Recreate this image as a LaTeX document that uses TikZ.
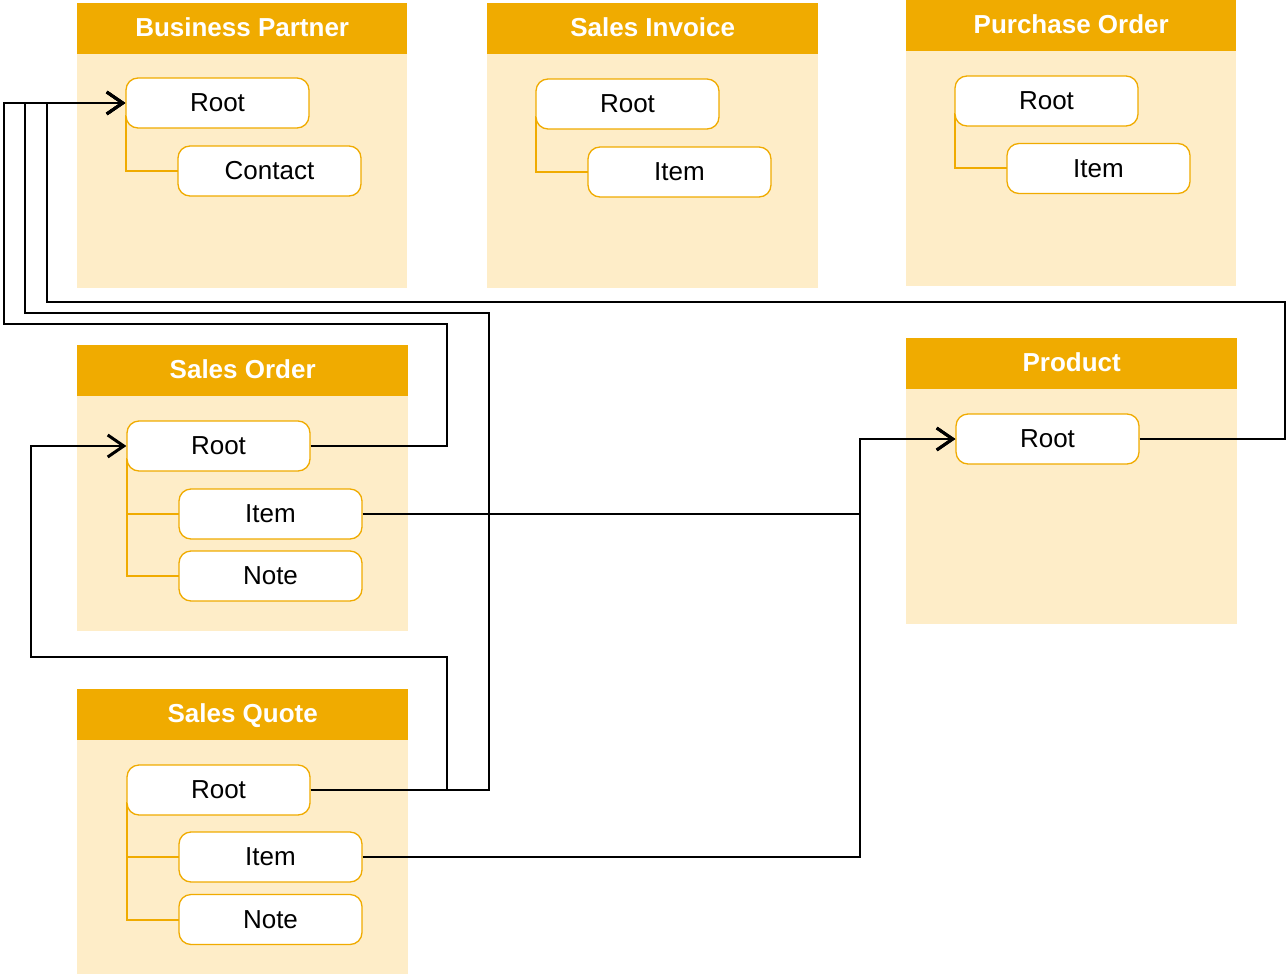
\documentclass[tikz,border=0pt]{standalone}
\usepackage{fontspec}
\setmainfont{Liberation Sans}
\usetikzlibrary{arrows.meta}
\definecolor{gold}{HTML}{F0AB00}
\definecolor{cream}{HTML}{FEEDC8}
\tikzset{
  hdr/.style={fill=gold, text=white, font=\fontsize{26}{29}\selectfont\bfseries,
    minimum width=330pt, minimum height=51pt, inner sep=0pt, anchor=north west,
    text depth=3pt},
  body/.style={fill=cream},
  part/.style={draw=gold, line width=1.3pt, fill=white, rounded corners=12pt,
    minimum width=183pt, minimum height=50pt, inner sep=0pt,
    font=\fontsize{26}{29}\selectfont},
  tree/.style={draw=gold, line width=1.2pt},
  conn/.style={draw=black, line width=2.6pt},
  ref/.style={conn, -{Straight Barb[length=16pt,width=22pt,line width=3pt]}}
}
\begin{document}
\begin{tikzpicture}[x=1pt,y=-1pt]
\useasboundingbox (0,0) rectangle (1287,974);

% object boxes: body panels
\fill[body] (77,53) rectangle (407,288);
\fill[body] (487,53) rectangle (818,288);
\fill[body] (906,50) rectangle (1236,286);
\fill[body] (77,395) rectangle (408,631);
\fill[body] (906,388) rectangle (1237,624);
\fill[body] (77,739) rectangle (408,974);

% object boxes: title bars
\node[hdr] (bp) at (77,3) {Business Partner};
\node[hdr, minimum width=331pt] (si) at (487,3) {Sales Invoice};
\node[hdr] (po) at (906,0) {Purchase Order};
\node[hdr, minimum width=331pt] (so) at (77,345) {Sales Order};
\node[hdr, minimum width=331pt] (pr) at (906,338) {Product};
\node[hdr, minimum width=331pt] (sq) at (77,689) {Sales Quote};

% tree connectors (drawn first, nodes cover their upper ends)
\draw[tree] (126,115) |- (178,171);
\draw[tree] (536,116) |- (588,172);
\draw[tree] (955,113) |- (1007,168);
\draw[tree] (127,458) |- (179,514);
\draw[tree] (127,458) |- (179,576);
\draw[tree] (127,802) |- (179,857);
\draw[tree] (127,802) |- (179,920);

% nodes
\node[part] (bproot) at (217.5,103) {Root};
\node[part] (bpcontact) at (269.5,171) {Contact};
\node[part] (siroot) at (627.5,104) {Root};
\node[part] (siitem) at (679.5,172) {Item};
\node[part] (poroot) at (1046.5,101) {Root};
\node[part] (poitem) at (1098.5,168.5) {Item};
\node[part] (soroot) at (218.5,446) {Root};
\node[part] (soitem) at (270.5,514) {Item};
\node[part] (sonote) at (270.5,576) {Note};
\node[part] (prroot) at (1047.5,439) {Root};
\node[part] (sqroot) at (218.5,790) {Root};
\node[part] (sqitem) at (270.5,857) {Item};
\node[part] (sqnote) at (270.5,919.5) {Note};

% bend points of the references
\coordinate (a1) at (447,324);
\coordinate (a2) at (4,103);
\coordinate (b1) at (489,313);
\coordinate (b2) at (25,103);
\coordinate (c1) at (447,657);
\coordinate (c2) at (31,446);
\coordinate (d1) at (1285,302);
\coordinate (d2) at (47,103);
\coordinate (e1) at (860,439);

% references between objects
\draw[ref] (soroot.east) -| (a1) -| (a2) -- (bproot.west);
\draw[ref] (sqroot.east) -| (b1) -| (b2) -- (bproot.west);
\draw[ref] (prroot.east) -| (d1) -| (d2) -- (bproot.west);
\draw[ref] (sqroot.east) -| (c1) -| (c2) -- (soroot.west);
\draw[ref] (soitem.east) -| (e1) -- (prroot.west);
\draw[ref] (sqitem.east) -| (e1) -- (prroot.west);
\end{tikzpicture}
\end{document}
